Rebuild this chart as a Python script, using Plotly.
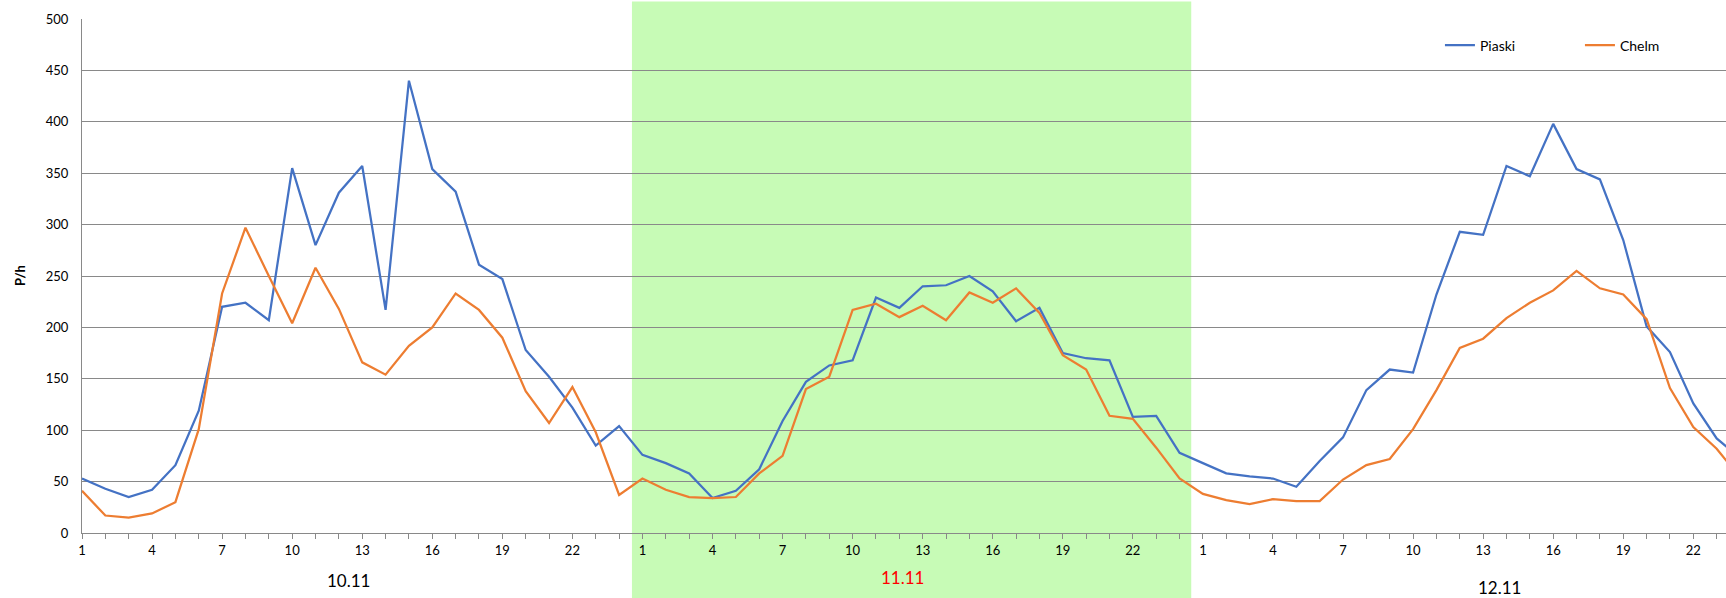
import plotly.graph_objects as go

# Hourly traffic, three consecutive days (24 values per day)
days = ["10.11", "11.11", "12.11"]
hour_labels = [str(h) for h in range(1, 25)]

piaski = [
    53, 43, 35, 42, 66, 119, 220, 224, 207, 355, 280, 331,
    357, 217, 440, 354, 332, 261, 247, 178, 152, 122, 85, 104,
    76, 68, 58, 34, 41, 62, 109, 147, 163, 168, 229, 219,
    240, 241, 250, 235, 206, 219, 175, 170, 168, 113, 114, 78,
    68, 58, 55, 53, 45, 70, 93, 139, 159, 156, 232, 293,
    290, 357, 347, 398, 354, 344, 285, 201, 176, 126, 92, 73,
]
chelm = [
    41, 17, 15, 19, 30, 101, 233, 297, 250, 204, 258, 218,
    166, 154, 182, 200, 233, 217, 190, 138, 107, 142, 98, 37,
    53, 42, 35, 34, 35, 58, 75, 140, 152, 217, 223, 210,
    221, 207, 234, 224, 238, 214, 173, 159, 114, 111, 83, 53,
    38, 32, 28, 33, 31, 31, 52, 66, 72, 101, 139, 180,
    189, 209, 224, 236, 255, 238, 232, 208, 141, 103, 82, 54,
]
y_ticks = [0, 50, 100, 150, 200, 250, 300, 350, 400, 450, 500]
highlight_day = 1
day_label_colors = ["#000000", "#FF0000", "#000000"]
day_label_pos = [11.4, 35.15, 60.7]
day_label_shift = [-47, -44, -54]

n = len(days) * len(hour_labels)
xs = list(range(n))
full_labels = hour_labels * len(days)

BLUE = "#4472C4"
ORANGE = "#ED7D31"
GRID = "#898989"
FONT = "Lato"

fig = go.Figure()
fig.add_trace(go.Scatter(x=xs, y=piaski, mode="lines", name="Piaski",
                         line=dict(color=BLUE, width=2.25)))
fig.add_trace(go.Scatter(x=xs, y=chelm, mode="lines", name="Chelm",
                         line=dict(color=ORANGE, width=2.25)))

# shaded middle day
fig.add_shape(type="rect", xref="x", yref="paper",
              x0=highlight_day * 24 - 0.45, x1=highlight_day * 24 + 23.5,
              y0=-0.13, y1=1.034, fillcolor="#C7FBB6", line_width=0,
              layer="below")

# day captions under the hour labels
for i, d in enumerate(days):
    fig.add_annotation(x=day_label_pos[i], y=0, xref="x", yref="paper",
                       yshift=day_label_shift[i], text=d, showarrow=False,
                       font=dict(family=FONT, size=17, color=day_label_colors[i]),
                       xanchor="center", yanchor="middle")

# y-axis title
fig.add_annotation(x=0, y=0.5, xref="paper", yref="paper", xshift=-62,
                   text="<b>P/h</b>", textangle=-90, showarrow=False,
                   font=dict(family=FONT, size=13, color="#000000"),
                   xanchor="center", yanchor="middle")

tick_idx = [i for i in xs if i % 3 == 0]
fig.update_xaxes(
    range=[0, 70.4], tickmode="array", tickvals=tick_idx,
    ticktext=[full_labels[i] for i in tick_idx],
    ticks="outside", ticklen=5, tickcolor=GRID, tickwidth=1,
    minor=dict(tickmode="array", tickvals=xs, ticks="outside", ticklen=5,
               tickcolor=GRID, tickwidth=1, showgrid=False),
    showgrid=False, showline=True, linecolor=GRID, linewidth=1,
    zeroline=False, tickfont=dict(family=FONT, size=13, color="#000000"),
)
fig.update_yaxes(
    range=[0, 500], tickmode="array", tickvals=y_ticks,
    showgrid=True, gridcolor=GRID, gridwidth=1,
    showline=True, linecolor=GRID, linewidth=1, zeroline=False,
    ticks="", ticklabelstandoff=10,
    tickfont=dict(family=FONT, size=13, color="#000000"),
)

fig.update_layout(
    width=1726, height=598,
    margin=dict(l=81.5, r=0, t=18.5, b=64.5),
    paper_bgcolor="white", plot_bgcolor="rgba(0,0,0,0)",
    font=dict(family=FONT, size=13, color="#000000"),
    showlegend=True,
    legend=dict(orientation="h", x=0.826, y=0.9485, xanchor="left",
                yanchor="middle", xref="paper", yref="paper",
                bgcolor="rgba(0,0,0,0)", entrywidth=95,
                font=dict(family=FONT, size=14, color="#000000")),
)

fig.write_html("out.html")
